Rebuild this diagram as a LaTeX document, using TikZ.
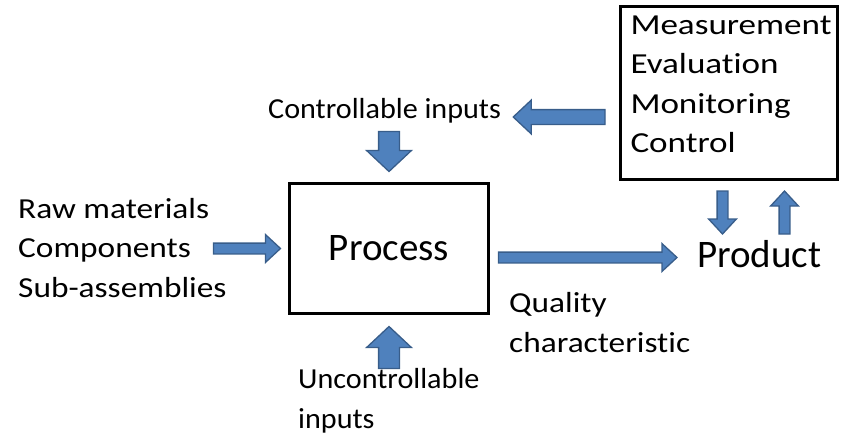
\documentclass[tikz,border=0pt]{standalone}
\usepackage{fontspec}
\setmainfont[Ligatures=NoCommon]{Carlito}
\newfontfamily\narrowfam[FakeStretch=1.04,Ligatures=NoCommon]{Carlito}
\newfontfamily\widefam[FakeStretch=1.15,Ligatures=NoCommon]{Carlito}
\newfontfamily\widerfam[FakeStretch=1.21,Ligatures=NoCommon]{Carlito}
\usetikzlibrary{
    calc,
    positioning,
}
\definecolor{ArrowFill}{HTML}{4F81BD}
\definecolor{ArrowLine}{HTML}{385D8A}
\newcommand{\txtfont}{\fontsize{29}{39.5}\selectfont}
\newcommand{\bigfont}{\fontsize{39}{46}\selectfont}
\tikzstyle{box}=[draw,rectangle,line width=3pt]
\tikzstyle{txt}=[inner sep=0pt,align=left,font=\txtfont]
\tikzset{
    barrow/.style={draw=ArrowLine,fill=ArrowFill,line width=1.3pt,line join=miter},
    blockpath/.style n args={3}{to path={
        ($(\tikztostart)!#1!90:(\tikztotarget)$)
        -- ($(\tikztotarget)!#3!(\tikztostart)!#1!90:(\tikztotarget)$)
        -- ($(\tikztotarget)!#3!(\tikztostart)!#2!90:(\tikztotarget)$)
        -- (\tikztotarget)
        -- ($(\tikztotarget)!#3!(\tikztostart)!#2!-90:(\tikztotarget)$)
        -- ($(\tikztotarget)!#3!(\tikztostart)!#1!-90:(\tikztotarget)$)
        -- ($(\tikztostart)!#1!-90:(\tikztotarget)$)
        -- cycle}},
    small arrow/.style={barrow,blockpath={5.4pt}{13.9pt}{15pt}},
    mid arrow/.style={barrow,blockpath={7.4pt}{16.9pt}{18pt}},
    big arrow/.style={barrow,blockpath={10.4pt}{22.4pt}{21pt}},
}

\begin{document}
\begin{tikzpicture}[x=1pt,y=-1pt]
    \useasboundingbox (0,0) rectangle (847,447);

    % Boxes
    \node[box,minimum width=199pt,minimum height=130pt,font=\bigfont] (proc) at (389,248.5) {Process};
    \node[box,anchor=north west,minimum width=217pt,minimum height=173pt,inner xsep=10.5pt,
        text width=196pt,align=left,font=\widerfam\txtfont,text depth=134.7pt] (meas) at (618.5,4.5)
        {Measurement\\Evaluation\\Monitoring\\Control};

    % Labels (base = last line)
    \node[txt,font=\widefam\txtfont,anchor=base west] (raw) at (18,297) {Raw materials\\Components\\Sub-assemblies};
    \node[txt,font=\narrowfam\txtfont,anchor=base west] (ctrl) at (268,118) {Controllable inputs};
    \node[txt,font=\narrowfam\txtfont,anchor=base west] (unctrl) at (298,428) {Uncontrollable\\inputs};
    \node[txt,font=\widefam\txtfont,anchor=base west] (quality) at (509,352) {Quality\\characteristic};
    \node[inner sep=0pt,anchor=base west,font=\bigfont] (prod) at (697,267) {Product};

    % Arrow ends
    \coordinate (in-s) at ([xshift=-74.5pt]proc.west);
    \coordinate (in-t) at ([xshift=-7.5pt]proc.west);
    \coordinate (ctrl-s) at ([yshift=50.5pt]proc.north);
    \coordinate (ctrl-t) at ([yshift=10.5pt]proc.north);
    \coordinate (unctrl-s) at ([yshift=-53.5pt]proc.south);
    \coordinate (unctrl-t) at ([yshift=-11.5pt]proc.south);
    \coordinate (out-s) at ([shift={(8.5pt,-9pt)}]proc.east);
    \coordinate (out-t) at ($(out-s -| prod.west)+(-20pt,0)$);
    \coordinate (fb-s) at ([shift={(-13.5pt,-24.5pt)}]meas.west);
    \coordinate (fb-t) at ($(fb-s -| ctrl.east)+(12pt,0)$);
    \coordinate (down-s) at ([shift={(-6pt,-10.5pt)}]meas.south);
    \coordinate (down-t) at ([shift={(-6pt,-53.5pt)}]meas.south);
    \coordinate (up-s) at ([shift={(56pt,-53.5pt)}]meas.south);
    \coordinate (up-t) at ([shift={(56pt,-10.5pt)}]meas.south);

    % Block arrows
    \draw[small arrow] (in-s) to (in-t);
    \draw[big arrow] (ctrl-s) to (ctrl-t);
    \draw[big arrow] (unctrl-s) to (unctrl-t);
    \draw[small arrow] (out-s) to (out-t);
    \draw[mid arrow] (fb-s) to (fb-t);
    \draw[small arrow] (down-s) to (down-t);
    \draw[small arrow] (up-s) to (up-t);
\end{tikzpicture}
\end{document}
